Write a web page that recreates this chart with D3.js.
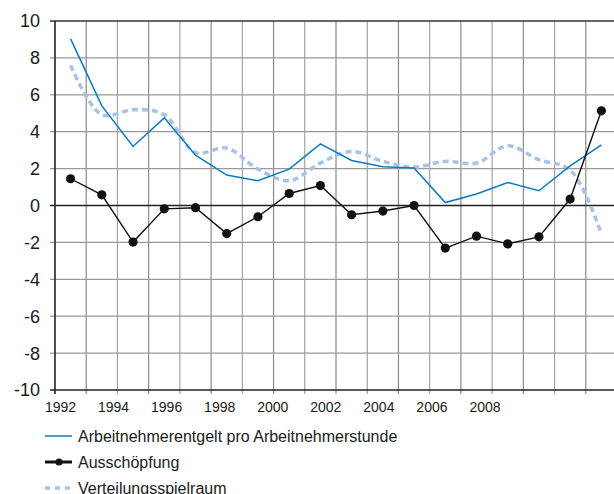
<!DOCTYPE html>
<html>
<head>
<meta charset="utf-8">
<script src="https://cdn.jsdelivr.net/npm/d3@7"></script>
<style>
  body { margin: 0; background: #fff; }
  svg { display: block; font-family: "Liberation Sans", Arial, sans-serif; }
</style>
</head>
<body>
<svg id="chart" width="614" height="494"></svg>
<script>
// data
var years = [1992, 1993, 1994, 1995, 1996, 1997, 1998, 1999, 2000,
    2001, 2002, 2003, 2004, 2005, 2006, 2007, 2008, 2009];
var entgelt = [9.03, 5.4, 3.2, 4.75, 2.73, 1.65, 1.34, 1.97, 3.34,
    2.44, 2.1, 2.03, 0.16, 0.62, 1.25, 0.8, 2.15, 3.29];
var ausschoepfung = [1.45, 0.58, -1.98, -0.18, -0.12, -1.52, -0.61, 0.65, 1.08,
    -0.5, -0.3, 0.0, -2.31, -1.66, -2.08, -1.7, 0.35, 5.13];
var spielraum = [7.59, 4.92, 5.19, 4.92, 2.87, 3.11, 1.97, 1.34, 2.3,
    2.93, 2.39, 2.08, 2.39, 2.3, 3.24, 2.48, 1.93, -1.53];
var yTicks = [10, 8, 6, 4, 2, 0, -2, -4, -6, -8, -10];
var xLabels = ["1992", "1994", "1996", "1998", "2000", "2002", "2004", "2006", "2008"];
var legendNames = ["Arbeitnehmerentgelt pro Arbeitnehmerstunde", "Ausschöpfung", "Verteilungsspielraum"];

var svg = d3.select("#chart");
var pLeft = 55, pTop = 21, pBottom = 390, pRight = 617;

var x = d3.scaleLinear().domain([1991.5, 2009.5]).range([pLeft, pRight]);
var y = d3.scaleLinear().domain([-10, 10]).range([pBottom, pTop]);
// the year labels do not sit under the data points in the original
var xl = d3.scalePoint().domain(xLabels).range([60.5, 485]);

var blue = "#0a7bbd", lightBlue = "#a9c3e8";

// grid
var gridX = d3.range(1992.5, 2009.5, 1);
svg.append("g").selectAll("line")
    .data(gridX)
    .enter().append("line")
    .attr("x1", function (d) { return x(d); })
    .attr("x2", function (d) { return x(d); })
    .attr("y1", pTop).attr("y2", pBottom + 4)
    .attr("stroke", function (d, i) { return i % 2 ? "#a3a3a3" : "#8a8a8a"; })
    .attr("stroke-width", 1.2);

svg.append("g").selectAll("line")
    .data(yTicks.filter(function (d) { return d != 0 && d != 10 && d != -10; }))
    .enter().append("line")
    .attr("x1", pLeft - 5).attr("x2", pRight)
    .attr("y1", function (d) { return y(d); })
    .attr("y2", function (d) { return y(d); })
    .attr("stroke", "#9a9a9a")
    .attr("stroke-width", 1.2);

// frame
svg.append("line").attr("x1", pLeft - 5).attr("x2", pRight)
    .attr("y1", y(10)).attr("y2", y(10)).attr("stroke", "#333").attr("stroke-width", 1.3);
svg.append("line").attr("x1", pLeft - 5).attr("x2", pRight)
    .attr("y1", y(0)).attr("y2", y(0)).attr("stroke", "#222").attr("stroke-width", 1.3);
svg.append("line").attr("x1", pLeft - 5).attr("x2", pRight)
    .attr("y1", y(-10)).attr("y2", y(-10)).attr("stroke", "#222").attr("stroke-width", 1.6);
svg.append("line").attr("x1", pLeft).attr("x2", pLeft)
    .attr("y1", pTop).attr("y2", pBottom + 4).attr("stroke", "#222").attr("stroke-width", 1.6);

// y labels
svg.append("g").selectAll("text")
    .data(yTicks)
    .enter().append("text")
    .attr("x", 40)
    .attr("y", function (d) { return y(d); })
    .attr("dy", "0.36em")
    .attr("text-anchor", "end")
    .attr("font-size", "18px")
    .attr("fill", "#1a1a1a")
    .text(function (d) { return d; });

// x labels
svg.append("g").selectAll("text")
    .data(xLabels)
    .enter().append("text")
    .attr("x", function (d) { return xl(d); })
    .attr("y", 412)
    .attr("text-anchor", "middle")
    .attr("font-size", "14px")
    .attr("fill", "#1a1a1a")
    .text(function (d) { return d; });

// lines
var line = d3.line()
    .x(function (d, i) { return x(years[i]); })
    .y(function (d) { return y(d); });

var smooth = d3.line()
    .x(function (d, i) { return x(years[i]); })
    .y(function (d) { return y(d); })
    .curve(d3.curveCatmullRom.alpha(0.5));

svg.append("path")
    .attr("d", smooth(spielraum))
    .attr("fill", "none")
    .attr("stroke", lightBlue)
    .attr("stroke-width", 3.5)
    .attr("stroke-dasharray", "6,4");

svg.append("path")
    .attr("d", line(entgelt))
    .attr("fill", "none")
    .attr("stroke", blue)
    .attr("stroke-width", 1.5);

svg.append("path")
    .attr("d", line(ausschoepfung))
    .attr("fill", "none")
    .attr("stroke", "#111")
    .attr("stroke-width", 1.4);

svg.append("g").selectAll("circle")
    .data(ausschoepfung)
    .enter().append("circle")
    .attr("cx", function (d, i) { return x(years[i]); })
    .attr("cy", function (d) { return y(d); })
    .attr("r", 4.6)
    .attr("fill", "#111");

// legend
var lg = svg.append("g");
var ly = [436, 462, 488];
lg.append("line").attr("x1", 45).attr("x2", 72).attr("y1", ly[0]).attr("y2", ly[0])
    .attr("stroke", blue).attr("stroke-width", 1.5);
lg.append("line").attr("x1", 45).attr("x2", 72).attr("y1", ly[1]).attr("y2", ly[1])
    .attr("stroke", "#111").attr("stroke-width", 3);
lg.append("circle").attr("cx", 59).attr("cy", ly[1]).attr("r", 3.6).attr("fill", "#111");
lg.append("line").attr("x1", 45).attr("x2", 72).attr("y1", ly[2]).attr("y2", ly[2])
    .attr("stroke", lightBlue).attr("stroke-width", 3.5).attr("stroke-dasharray", "5,5");

lg.selectAll("text")
    .data(legendNames)
    .enter().append("text")
    .attr("x", 78)
    .attr("y", function (d, i) { return ly[i]; })
    .attr("dy", "0.36em")
    .attr("font-size", "16px")
    .attr("fill", "#1a1a1a")
    .text(function (d) { return d; });
</script>
</body>
</html>
